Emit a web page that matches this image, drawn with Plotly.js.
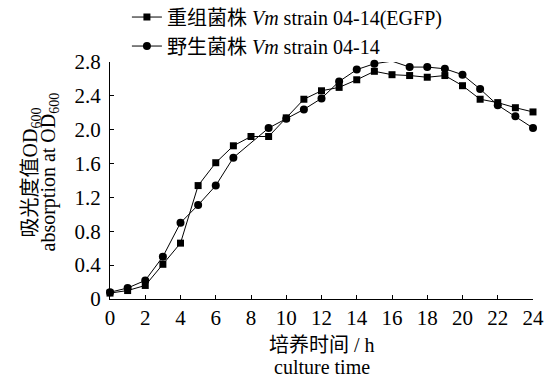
<!DOCTYPE html>
<html>
<head>
<meta charset="utf-8">
<script src="https://cdn.plot.ly/plotly-3.0.1.min.js"></script>
<style>html,body{margin:0;padding:0;background:#fff;}#chart{width:546px;height:377px;}</style>
</head>
<body>
<div id="chart"></div>
<script>
// Culture time (h)
const hoursRecombinant = [0,1,2,3,4,5,6,7,8,9,10,11,12,13,14,15,16,17,18,19,20,21,22,23,24];
const odRecombinant = [0.07,0.10,0.16,0.41,0.66,1.34,1.61,1.81,1.92,1.92,2.14,2.36,2.46,2.50,2.59,2.69,2.65,2.64,2.62,2.64,2.52,2.36,2.32,2.26,2.21];
const hoursWild = [0,1,2,3,4,5,6,7,9,10,11,12,13,14,15,16,17,18,19,20,21,22,23,24];
const odWild = [0.08,0.13,0.22,0.50,0.90,1.11,1.34,1.67,2.02,2.13,2.24,2.37,2.57,2.71,2.78,2.81,2.74,2.74,2.72,2.65,2.48,2.29,2.16,2.02];
const nameRecombinant = '重组菌株 <i>Vm</i> strain 04-14(EGFP)';
const nameWild = '野生菌株 <i>Vm</i> strain 04-14';
const xTicks = [0,2,4,6,8,10,12,14,16,18,20,22,24];
const yTicks = [0,0.4,0.8,1.2,1.6,2.0,2.4,2.8];
const yTickText = ['0','0.4','0.8','1.2','1.6','2.0','2.4','2.8'];
const xTitleLines = ['培养时间 / h', 'culture time'];
const yTitleLines = ['吸光度值OD<sub>600</sub>', 'absorption at OD<sub>600</sub>'];

const FONT = '"Liberation Serif", "Times New Roman", "Noto Sans CJK SC", serif';

const traces = [
  {x: hoursRecombinant, y: odRecombinant, name: nameRecombinant, type: 'scatter', mode: 'lines+markers', cliponaxis: false,
   line: {color: '#000', width: 1}, marker: {symbol: 'square', size: 7, color: '#000'}},
  {x: hoursWild, y: odWild, name: nameWild, type: 'scatter', mode: 'lines+markers', cliponaxis: false,
   line: {color: '#000', width: 1}, marker: {symbol: 'circle', size: 8, color: '#000'}}
];

const titleFont = {family: FONT, size: 20, color: '#000'};
const annotations = [
  {text: xTitleLines[0], xref: 'paper', yref: 'paper', x: 0.5, y: 0, yshift: -46, showarrow: false, font: titleFont, xanchor: 'center', yanchor: 'middle'},
  {text: xTitleLines[1], xref: 'paper', yref: 'paper', x: 0.5, y: 0, yshift: -68, showarrow: false, font: titleFont, xanchor: 'center', yanchor: 'middle'},
  {text: yTitleLines[0], xref: 'paper', yref: 'paper', x: 0, xshift: -79, y: 0.5, yshift: 8, showarrow: false, font: titleFont, textangle: -90, xanchor: 'center', yanchor: 'middle'},
  {text: yTitleLines[1], xref: 'paper', yref: 'paper', x: 0, xshift: -61, y: 0.5, yshift: 8, showarrow: false, font: titleFont, textangle: -90, xanchor: 'center', yanchor: 'middle'}
];

const layout = {
  width: 546, height: 377,
  margin: {l: 110, r: 13, t: 62, b: 78, autoexpand: false},
  paper_bgcolor: '#fff', plot_bgcolor: '#fff',
  font: {family: FONT, size: 20, color: '#000'},
  showlegend: true,
  legend: {x: 0.04, y: 1.272, xanchor: 'left', yanchor: 'top', bgcolor: 'rgba(0,0,0,0)',
           font: {family: FONT, size: 20, color: '#000'}, itemwidth: 30, tracegroupgap: 0},
  annotations: annotations,
  xaxis: {
    range: [0, 24], tickvals: xTicks, ticktext: xTicks.map(String),
    showline: true, linecolor: '#000', linewidth: 1, ticks: 'inside', ticklen: 4, tickcolor: '#000',
    showgrid: false, zeroline: false, tickfont: {family: FONT, size: 21}
  },
  yaxis: {
    range: [0, 2.8], tickvals: yTicks, ticktext: yTickText,
    showline: true, linecolor: '#000', linewidth: 1, ticks: 'inside', ticklen: 4, tickcolor: '#000',
    showgrid: false, zeroline: false, tickfont: {family: FONT, size: 21}, ticklabelstandoff: 4
  }
};

Plotly.newPlot('chart', traces, layout, {displayModeBar: false, staticPlot: true});
</script>
</body>
</html>
